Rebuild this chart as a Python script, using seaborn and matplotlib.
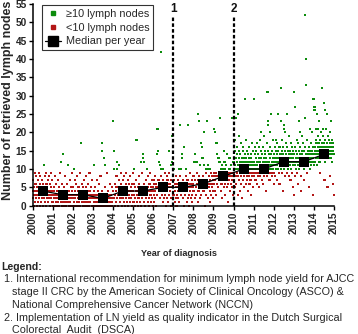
import matplotlib
matplotlib.use("Agg")
import matplotlib.pyplot as plt
from matplotlib.lines import Line2D
import numpy as np
import pandas as pd
import seaborn as sns

# ---------------- data ----------------
years = list(range(2000, 2015))
tick_years = list(range(2000, 2016))
y_ticks = list(range(0, 56, 5))

# retrieved lymph nodes per patient, per year of diagnosis (in order of diagnosis)
n2000 = [4,2,7,0,5,3,9,1,4,6,2,8,3,0,5,4,7,1,3,9,2,4,6,0,8,3,5,1,4,2,7,3,0,6,4,11,5,2,8,1,3,4,9,0,6,2,5,3,7,4,1,8,2,3,0,4,6,5,2,9,3,1,4,7]
n2001 = [3,1,0,5,2,4,8,3,0,2,6,1,3,4,0,2,7,3,1,5,2,0,3,9,4,1,2,12,3,0,6,2,4,1,14,3,0,5,2,8,1,3,4,0,2,6,3,1,2,11,11,4,0,3,7,2,1,5,3,0,9,2,4,3]
n2002 = [2,5,0,3,1,10,4,7,2,0,3,6,1,3,8,2,4,0,5,3,1,2,9,3,0,17,4,2,6,1,3,0,5,2,3,7,1,4,0,2,3,8,1,5,3,0,2,4,6,1,3,2,0,9,3,4,1,2,5,3,0,7,2,3]
n2003 = [2,0,4,1,11,3,0,2,5,1,2,0,7,3,1,2,0,4,2,6,1,0,3,2,8,1,2,0,4,17,15,2,1,0,13,3,2,11,1,5,0,2,1,3,0,9,2,1,4,0,2,3,1,6,0,2,1,3,2,0,5,1,2,4]
n2004 = [4,23,2,15,10,6,3,0,5,1,4,8,2,10,12,3,5,0,4,11,7,2,4,1,6,3,9,0,5,4,2,7,3,4,1,8,5,0,3,4,6,2,9,4,1,5,3,0,7,4,2,6,3,8,4,1,5,2,4,0,3,6,4,9]
n2005 = [4,1,6,10,3,0,5,2,18,4,7,1,3,18,5,0,4,2,8,3,6,4,1,5,0,12,3,4,9,2,5,14,13,4,1,6,12,3,0,5,4,2,7,10,3,4,1,8,5,2,4,0,6,3,4,9,1,5,3,2,4,7,0,4]
n2006 = [5,3,7,1,6,4,8,2,5,0,6,14,21,3,5,21,15,7,4,12,6,2,11,5,42,8,10,3,6,4,1,5,7,10,2,6,4,9,5,3,0,6,5,8,4,2,7,5,1,6,3,9,15,5,4,6,2,7,11,0,5,12,19,8,3]
n2007 = [5,3,10,7,1,6,4,8,2,5,0,6,3,5,7,4,2,10,6,1,5,22,8,3,10,5,4,6,13,14,2,7,5,0,16,16,4,6,3,10,5,8,1,6,4,7,2,5,22,3,6,0,5,9,4,2,6,5,3,7,1,5,8,4]
n2008 = [6,4,8,12,2,14,7,12,5,3,12,9,6,1,7,25,4,8,23,6,2,11,5,17,7,3,16,16,13,6,13,8,4,20,11,7,5,0,6,10,9,3,23,7,6,10,11,2,8,5,6,10,4,7,1,6,9,3,8,5,6,2,7,4]
n2009 = [8,21,6,9,4,7,20,8,3,9,17,6,14,8,13,5,13,9,13,12,7,12,8,24,10,4,9,6,11,8,2,10,7,9,15,5,8,12,6,10,3,9,8,11,7,5,14,8,9,1,6,10,8,7,13,4,9,10,8,6,11,7,24,9,5,8,12,3]
n2010 = [10,7,12,24,9,15,10,5,18,11,8,13,10,24,6,14,10,9,16,12,3,11,25,10,8,13,19,7,10,15,9,12,4,10,14,8,11,17,6,10,13,9,12,2,11,10,16,7,15,9,10,13,5,12,8,11,29,10,14,9,18,6,12,10,13,8,11,7,15,10,9,12,4,14,10,11,8,16,13,6,10,9,12,11,7,14,10,3,13,9,12,10,8,17,11,5,15,10,9,12]
n2011 = [10,8,29,12,14,9,11,16,7,10,13,15,9,12,6,11,17,10,8,14,12,9,13,10,5,16,11,18,8,12,10,15,9,20,13,7,11,10,14,9,12,16,6,10,13,8,11,19,15,9,12,10,14,4,11,13,9,10,17,12,8,31,15,23,11,22,9,14,10,12,7,16,20,13,11,9,25,10,14,8,12,15,11,9,13,10,18,12,6]
n2012 = [12,9,14,11,16,13,8,12,15,10,18,12,7,14,11,13,17,12,25,10,15,9,13,12,6,16,11,14,6,12,32,23,13,10,15,12,18,9,14,11,13,4,16,12,10,21,22,15,8,13,12,20,14,11,17,12,9,13,16,25,12,11,15,13,10,14,12,19,8,13,15,11,12,7,17,14,10,13,12,16,9,14,12,11,15,5,13,3]
n2013 = [12,14,31,11,27,8,16,13,10,15,12,18,9,14,12,17,11,6,13,23,12,15,10,20,14,12,16,11,4,13,8,15,12,19,14,11,13,12,17,10,15,13,7,12,16,24,52,40,33,14,11,12,18,13,9,15,12,14,11,5,16,13,12,21,15,10,14,12,17,13,11,15,12,20,14,13,16,3,12,29,11]
n2014 = [14,27,26,16,12,27,15,13,18,14,21,17,11,15,25,14,16,19,13,21,15,14,23,17,12,9,16,14,18,15,13,20,14,17,15,32,16,14,21,13,19,15,17,14,28,16,7,26,12,15,18,14,21,16,13,15,25,14,17,5,16,14,19,15,13,18,14,16,8,15,20,14,17,13,23,15,16,14,18,12,15,17,14,16,6,15,14,3]

nodes_by_year = [n2000, n2001, n2002, n2003, n2004, n2005, n2006, n2007,
                 n2008, n2009, n2010, n2011, n2012, n2013, n2014]

median_per_year = [4, 3, 3, 2, 4, 4, 5, 5, 6, 8, 10, 10, 12, 12, 14]

event_years = [2007, 2010]
event_labels = ["1", "2"]

label_hi = "≥10 lymph nodes"
label_lo = "<10 lymph nodes"
label_med = "Median per year"

# ---------------- frame ----------------
rows = []
for yr, vals in zip(years, nodes_by_year):
    n = len(vals)
    for i, v in enumerate(vals):
        rows.append({"date": yr + (i + 0.5) / n, "nodes": v,
                     "group": label_hi if v >= 10 else label_lo})
df = pd.DataFrame(rows)
med_df = pd.DataFrame({"date": [y + 0.5 for y in years], "nodes": median_per_year})

GREEN = "#0c8c0c"
RED = "#b31616"

sns.set_style("ticks")
plt.rcParams["font.family"] = ["Liberation Sans", "DejaVu Sans"]

fig = plt.figure(figsize=(3.58, 3.34), dpi=100)
ax = fig.add_axes([32.5 / 358, 1 - 205.7 / 334, (334 - 32.5) / 358, (205.7 - 4) / 334])

sns.scatterplot(data=df, x="date", y="nodes", hue="group",
                palette={label_hi: GREEN, label_lo: RED},
                marker="s", s=2.2, linewidth=0, legend=False, ax=ax,
                clip_on=False, zorder=2)

sns.lineplot(data=med_df, x="date", y="nodes", color="black", marker="s",
             markersize=6.5, markeredgewidth=0, linewidth=0.9, ax=ax, zorder=4)

ax.vlines(event_years, 0, 51.5, colors="black", linestyles=(0, (1.6, 1.0)),
          linewidth=1.6, zorder=5)
for yr, lab in zip(event_years, event_labels):
    ax.text(yr, 53.6, lab, ha="center", va="center", fontsize=8.5,
            fontweight="bold", color="#111111")

ax.set_xlim(2000, 2015)
ax.set_ylim(0, 55)
ax.set_xticks(tick_years)
ax.set_xticklabels([str(t) for t in tick_years], rotation=90, fontsize=7.3,
                   fontweight="bold")
ax.set_yticks(y_ticks)
ax.set_yticklabels([str(t) for t in y_ticks], fontsize=7.3, fontweight="bold")
ax.tick_params(axis="both", length=3.2, width=1.0, pad=1, color="black")
for side in ["top", "right"]:
    ax.spines[side].set_visible(False)
for side in ["left", "bottom"]:
    ax.spines[side].set_linewidth(1.1)
    ax.spines[side].set_color("black")

ax.set_ylabel("Number of retrieved lymph nodes", fontsize=9, fontweight="bold")
ax.yaxis.set_label_coords((8 - 32.5) / 301.5, (205.7 - 100) / 201.7)
ax.yaxis.label.set_va("center")
ax.set_xlabel("Year of diagnosis", fontsize=6.6, fontweight="bold")
ax.xaxis.set_label_coords((178.5 - 32.5) / 301.5, (205.7 - 253) / 201.7)
ax.xaxis.label.set_va("center")

handles = [
    Line2D([], [], marker="s", color=GREEN, linestyle="none", markersize=2.2),
    Line2D([], [], marker="s", color=RED, linestyle="none", markersize=2.2),
    Line2D([], [], marker="s", color="black", linestyle="-", linewidth=0.9,
           markersize=6.5),
]
leg = ax.legend(handles, [label_hi, label_lo, label_med], loc="upper left",
                bbox_to_anchor=((41.7 - 32.5) / 301.5, (205.7 - 5) / 201.7),
                fontsize=7.8, frameon=True, fancybox=False, edgecolor="black",
                handlelength=1.4, handletextpad=0.5, labelspacing=0.35,
                borderpad=0.35, borderaxespad=0)
leg.get_frame().set_linewidth(0.8)

def ftext(x, y, s, **kw):
    fig.text(x / 358, 1 - y / 334, s, va="center", ha="left", **kw)

FS = 7.75
ftext(1.5, 267.2, "Legend:", fontsize=7.6, fontweight="bold")
ftext(3.5, 279.3, "1. International recommendation for minimum lymph node yield for AJCC", fontsize=FS)
ftext(12.5, 292.2, "stage II CRC by the American Society of Clinical Oncology (ASCO) &", fontsize=FS)
ftext(12.5, 305, "National Comprehensive Cancer Network (NCCN)", fontsize=FS)
ftext(3.5, 317.8, "2. Implementation of LN yield as quality indicator in the Dutch Surgical", fontsize=FS)
ftext(12.5, 329.6, "Colorectal  Audit  (DSCA)", fontsize=FS)

fig.savefig("out.png", dpi=100)
